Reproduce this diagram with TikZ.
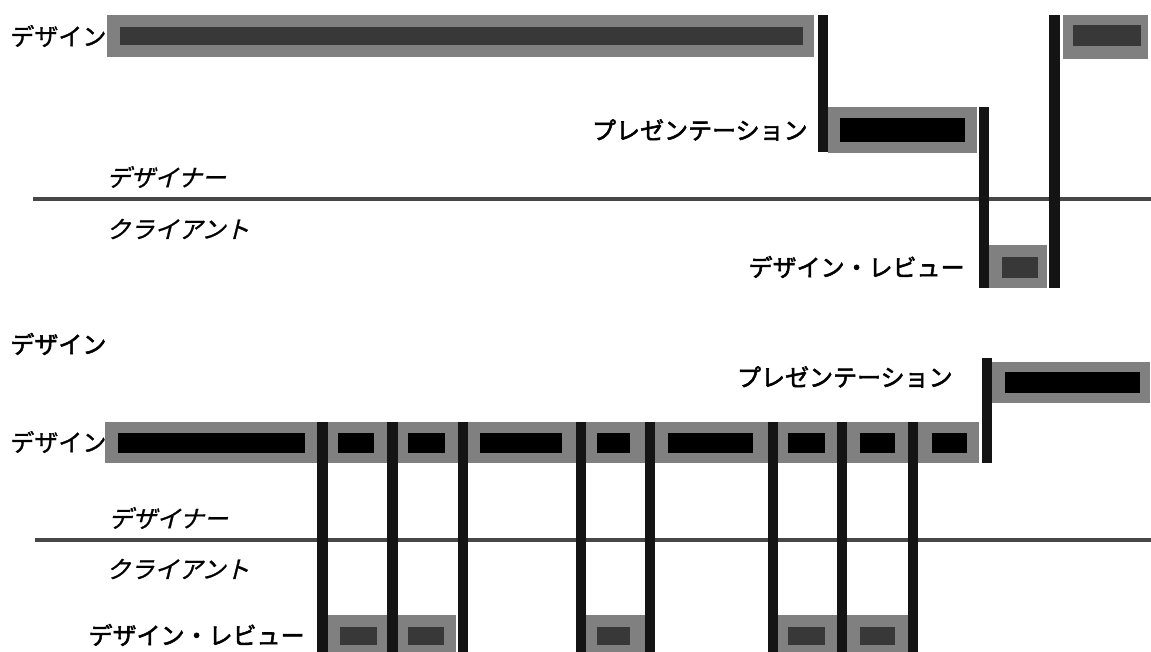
\documentclass[tikz,border=0pt]{standalone}
\usepackage{fontspec}
\newfontfamily\jp[FakeBold=1.2]{Noto Sans CJK JP}
\newfontfamily\jpb[FakeBold=2.2]{Noto Sans CJK JP}
\newfontfamily\jpi[FakeSlant=0.25,FakeBold=1.0]{Noto Sans CJK JP}
\usetikzlibrary{fit}
\tikzset{
  outer/.style={fill=black!50, draw=none, inner sep=0pt, outer sep=0pt},
  inblack/.style={fill=black, draw=none, inner sep=0pt, outer sep=0pt},
  indark/.style={fill=black!78, draw=none, inner sep=0pt, outer sep=0pt},
  vbar/.style={fill=black!92, draw=none, inner sep=0pt, outer sep=0pt},
  divider/.style={draw=black!72, line width=2pt},
  lbl/.style={font=\jp\fontsize{12}{12}\selectfont, inner sep=0pt},
  lblb/.style={font=\jpb\fontsize{12}{12}\selectfont, inner sep=0pt},
  lbli/.style={font=\jpi\fontsize{12}{12}\selectfont, inner sep=0pt},
}
\begin{document}
\begin{tikzpicture}[x=0.5pt,y=-0.5pt]
\useasboundingbox (0,0) rectangle (1151,652);
% ---------- top diagram ----------
\coordinate (h1a) at (33,199);
\coordinate (h1b) at (1151,199);
\draw[divider] (h1a) -- (h1b);
\node[lbl, anchor=west] (lt1) at (10,36) {デザイン};
\node[lbli, anchor=west] (ltd) at (106,177) {デザイナー};
\node[lbli, anchor=west] (ltc) at (106,229) {クライアント};
\node[lblb, anchor=east] (ltp) at (808,130) {プレゼンテーション};
\node[lblb, anchor=east] (ltr) at (965,267) {デザイン・レビュー};

\node[outer, fit={(107,15)(814,57)}] (t1) {};
\node[indark, fit={(120,27)(803,45)}] (t1i) {};
\node[outer, fit={(828,107)(977,153)}] (p1) {};
\node[inblack, fit={(840,118)(965,142)}] (p1i) {};
\node[outer, fit={(989,245)(1047,288)}] (r1) {};
\node[indark, fit={(1002,257)(1038,278)}] (r1i) {};
\node[outer, fit={(1063,15)(1148,59)}] (t2) {};
\node[indark, fit={(1073,25)(1141,46)}] (t2i) {};
\node[vbar, fit={(818,15)(828,152)}] (va) {};
\node[vbar, fit={(979,107)(989,288)}] (vb) {};
\node[vbar, fit={(1049,15)(1060,288)}] (vc) {};

% ---------- bottom diagram ----------
\node[lblb, anchor=west] (title) at (10,344) {デザイン};
\coordinate (h2a) at (35,540);
\coordinate (h2b) at (1151,540);
\draw[divider] (h2a) -- (h2b);
\node[lbl, anchor=west] (lb1) at (10,442) {デザイン};
\node[lbli, anchor=west] (lbd) at (108,518) {デザイナー};
\node[lbli, anchor=west] (lbc) at (106,569) {クライアント};
\node[lblb, anchor=east] (lbp) at (953,377) {プレゼンテーション};
\node[lblb, anchor=east] (lbr) at (305,635) {デザイン・レビュー};

\node[outer, fit={(992,362)(1150,403)}] (p2) {};
\node[inblack, fit={(1005,372)(1140,393)}] (p2i) {};

% design row
\node[outer, fit={(105,422)(317,463)}] (ba) {};
\node[inblack, fit={(118,433)(305,453)}] (bai) {};
\node[outer, fit={(328,422)(387,463)}] (bb) {};
\node[inblack, fit={(338,433)(374,453)}] (bbi) {};
\node[outer, fit={(398,422)(458,463)}] (bc) {};
\node[inblack, fit={(408,433)(445,453)}] (bci) {};
\node[outer, fit={(468,422)(577,463)}] (bd) {};
\node[inblack, fit={(480,433)(562,453)}] (bdi) {};
\node[outer, fit={(586,422)(645,463)}] (be) {};
\node[inblack, fit={(597,433)(630,453)}] (bei) {};
\node[outer, fit={(655,422)(768,463)}] (bf) {};
\node[inblack, fit={(668,433)(753,453)}] (bfi) {};
\node[outer, fit={(778,422)(837,463)}] (bg) {};
\node[inblack, fit={(788,433)(825,453)}] (bgi) {};
\node[outer, fit={(847,422)(908,463)}] (bh) {};
\node[inblack, fit={(860,433)(895,453)}] (bhi) {};
\node[outer, fit={(918,422)(979,463)}] (bi) {};
\node[inblack, fit={(932,433)(967,453)}] (bii) {};

% review row
\node[outer, fit={(328,615)(387,652)}] (rb1) {};
\node[indark, fit={(340,627)(377,645)}] (rb1i) {};
\node[outer, fit={(398,615)(456,652)}] (rb2) {};
\node[indark, fit={(408,627)(444,645)}] (rb2i) {};
\node[outer, fit={(586,615)(645,652)}] (rb3) {};
\node[indark, fit={(597,627)(630,645)}] (rb3i) {};
\node[outer, fit={(778,615)(837,652)}] (rb4) {};
\node[indark, fit={(788,627)(825,645)}] (rb4i) {};
\node[outer, fit={(847,615)(908,652)}] (rb5) {};
\node[indark, fit={(860,627)(895,645)}] (rb5i) {};

% vertical transitions
\node[vbar, fit={(317,422)(328,652)}] (v1) {};
\node[vbar, fit={(387,422)(398,652)}] (v2) {};
\node[vbar, fit={(458,422)(468,652)}] (v3) {};
\node[vbar, fit={(576,422)(586,652)}] (v4) {};
\node[vbar, fit={(645,422)(655,652)}] (v5) {};
\node[vbar, fit={(768,422)(778,652)}] (v6) {};
\node[vbar, fit={(837,422)(847,652)}] (v7) {};
\node[vbar, fit={(908,422)(918,652)}] (v8) {};
\node[vbar, fit={(982,358)(992,463)}] (v9) {};
\end{tikzpicture}
\end{document}
